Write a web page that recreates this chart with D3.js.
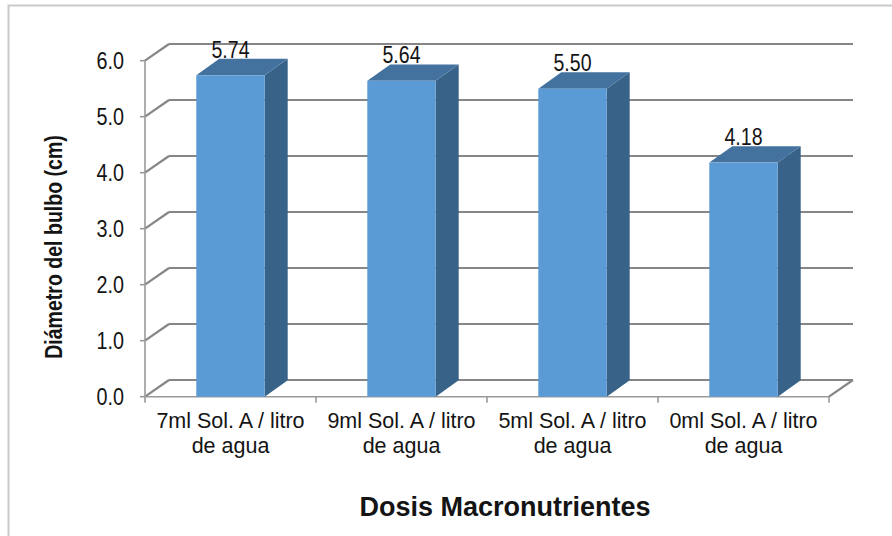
<!DOCTYPE html>
<html>
<head>
<meta charset="utf-8">
<script src="https://cdn.jsdelivr.net/npm/d3@7"></script>
<style>
  html, body { margin: 0; padding: 0; background: #fff; }
  svg { display: block; }
  text { font-family: Arial, "Liberation Sans", sans-serif; fill: #141414; }
</style>
</head>
<body>
<svg id="chart" width="892" height="536"></svg>
<script>
// Bulb diameter by macronutrient dose
const categories = [
  ["7ml Sol. A / litro", "de agua"],
  ["9ml Sol. A / litro", "de agua"],
  ["5ml Sol. A / litro", "de agua"],
  ["0ml Sol. A / litro", "de agua"]
];
const values = [5.74, 5.64, 5.50, 4.18];
const yTicks = [0, 1, 2, 3, 4, 5, 6];
const yTitle = "Diámetro del bulbo (cm)";
const xTitle = "Dosis Macronutrientes";

const svg = d3.select("#chart");
const W = 892, H = 536;

// Plot frame (front plane) and 3-D depth offsets
const plotLeft = 145, plotRight = 829, plotBottom = 396.7, plotTop = 60.7;
const wallDx = 24, wallDy = -16.7;   // back wall offset
const barDx = 23, barDy = -16.4;     // bar depth offset

const keys = categories.map(c => c.join(" "));
const x = d3.scaleBand().domain(keys).range([plotLeft, plotRight])
  .paddingInner(0.6).paddingOuter(0.3);
const y = d3.scaleLinear().domain([0, 6]).range([plotBottom, plotTop]);

// Outer chart border
svg.append("rect")
  .attr("x", 8.5).attr("y", 5.5).attr("width", W + 20).attr("height", H + 20)
  .attr("fill", "none").attr("stroke", "#cacaca").attr("stroke-width", 2);

const grid = svg.append("g").attr("stroke", "#868686").attr("stroke-width", 2.2).attr("fill", "none");

// Back wall gridlines
grid.selectAll("line.back").data(yTicks).join("line")
  .attr("class", "back")
  .attr("x1", plotLeft + wallDx).attr("x2", plotRight + wallDx)
  .attr("y1", d => y(d) + wallDy).attr("y2", d => y(d) + wallDy);

// Side wall diagonals
grid.selectAll("line.side").data(yTicks).join("line")
  .attr("class", "side")
  .attr("x1", plotLeft).attr("x2", plotLeft + wallDx)
  .attr("y1", d => y(d)).attr("y2", d => y(d) + wallDy);

// Floor: right edge diagonal
grid.append("line")
  .attr("x1", plotRight).attr("y1", y(0))
  .attr("x2", plotRight + wallDx).attr("y2", y(0) + wallDy);

// Vertical value axis line with tick marks
const axisG = svg.append("g").attr("stroke", "#9a9a9a").attr("stroke-width", 1.6);
axisG.append("line").attr("x1", plotLeft).attr("x2", plotLeft).attr("y1", y(6)).attr("y2", y(0));
axisG.selectAll("line.yt").data(yTicks).join("line")
  .attr("class", "yt")
  .attr("x1", plotLeft - 5).attr("x2", plotLeft).attr("y1", d => y(d)).attr("y2", d => y(d));

// Category axis (floor front edge) with separators
axisG.append("line").attr("x1", plotLeft).attr("x2", plotRight).attr("y1", y(0)).attr("y2", y(0));
const sepX = d3.range(keys.length + 1).map(i => plotLeft + i * x.step());
axisG.selectAll("line.xt").data(sepX).join("line")
  .attr("class", "xt")
  .attr("x1", d => d).attr("x2", d => d).attr("y1", y(0)).attr("y2", y(0) + 6);

// Y tick labels (condensed)
svg.append("g").selectAll("text").data(yTicks).join("text")
  .attr("text-anchor", "end")
  .attr("font-size", 23)
  .attr("transform", d => `translate(124,${y(d) + 8}) scale(0.86,1)`)
  .text(d => d3.format(".1f")(d));

// 3-D bars
const bars = svg.append("g").selectAll("g").data(values).join("g");
bars.each(function (v, i) {
  const g = d3.select(this);
  const x0 = x(keys[i]), x1 = x0 + x.bandwidth();
  const yt = y(v), yb = y(0);
  // side face
  g.append("path")
    .attr("d", `M${x1},${yb} L${x1 + barDx},${yb + barDy} L${x1 + barDx},${yt + barDy} L${x1},${yt} Z`)
    .attr("fill", "#386287");
  // top face
  g.append("path")
    .attr("d", `M${x0},${yt} L${x0 + barDx},${yt + barDy} L${x1 + barDx},${yt + barDy} L${x1},${yt} Z`)
    .attr("fill", "#43729f");
  // front face
  g.append("rect")
    .attr("x", x0).attr("y", yt).attr("width", x1 - x0).attr("height", yb - yt)
    .attr("fill", "#5b9bd5");
});

// Value labels
svg.append("g").selectAll("text").data(values).join("text")
  .attr("text-anchor", "middle")
  .attr("font-size", 23)
  .attr("transform", (d, i) => `translate(${x(keys[i]) + x.bandwidth() / 2},${y(d) + barDy - 1}) scale(0.85,1)`)
  .text(d => d3.format(".2f")(d));

// Category labels (two lines each)
const catG = svg.append("g").selectAll("text").data(categories).join("text")
  .attr("text-anchor", "middle")
  .attr("font-size", 21.5)
  .attr("x", (d, i) => x(keys[i]) + x.bandwidth() / 2)
  .attr("y", 428);
catG.selectAll("tspan").data(d => d).join("tspan")
  .attr("x", function () { return d3.select(this.parentNode).attr("x"); })
  .attr("dy", (d, j) => j === 0 ? 0 : 25)
  .text(d => d);

// Axis titles
svg.append("text")
  .attr("text-anchor", "middle")
  .attr("font-size", 23).attr("font-weight", "bold")
  .attr("transform", "translate(62,247) rotate(-90) scale(0.85,1)")
  .text(yTitle);

svg.append("text")
  .attr("text-anchor", "middle")
  .attr("font-size", 27).attr("font-weight", "bold")
  .attr("transform", "translate(505,516)")
  .text(xTitle);
</script>
</body>
</html>
